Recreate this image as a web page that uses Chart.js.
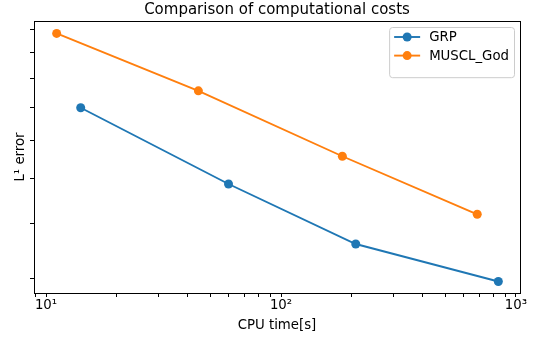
<!DOCTYPE html>
<html>
<head>
<meta charset="utf-8">
<script src="https://cdn.jsdelivr.net/npm/chart.js@4"></script>
<style>
  html, body { margin: 0; padding: 0; background: #fff; }
  #wrap { width: 536px; height: 341px; }
</style>
</head>
<body>
<div id="wrap"><canvas id="chart"></canvas></div>
<script>
const chartTitle = "Comparison of computational costs";
const xLabel = "CPU time[s]";
const yLabel = "L\u00b9 error";

const grpTime = [14.05, 59.8, 208, 841];
const grpError = [0.0080, 0.00587, 0.0046, 0.00395];
const musclTime = [11.1, 44.5, 182.4, 684];
const musclError = [0.01082, 0.00857, 0.00657, 0.00519];

const xTickValues = [9, 10, 20, 30, 40, 50, 60, 70, 80, 90, 100, 200, 300, 400, 500, 600, 700, 800, 900, 1000];
const xTickLabels = { 10: "10\u00b9", 100: "10\u00b2", 1000: "10\u00b3" };
const yTickValues = [0.004, 0.005, 0.006, 0.007, 0.008, 0.009, 0.010, 0.011];

const FONT = "'DejaVu Sans', sans-serif";
const BLUE = "#1f77b4";
const ORANGE = "#ff7f0e";

const toPoints = (xs, ys) => xs.map((x, i) => ({ x, y: ys[i] }));

// frame, title and matplotlib-like legend
const decor = {
  id: "decor",
  afterDraw(chart) {
    const { ctx, chartArea: a } = chart;
    ctx.save();
    ctx.strokeStyle = "#000";
    ctx.lineWidth = 1;
    ctx.strokeRect(Math.round(a.left) + 0.5, Math.round(a.top) + 0.5,
      Math.round(a.right - a.left), Math.round(a.bottom - a.top));

    ctx.fillStyle = "#000";
    ctx.font = `15px ${FONT}`;
    ctx.textAlign = "center";
    ctx.textBaseline = "alphabetic";
    ctx.fillText(chartTitle, (a.left + a.right) / 2, a.top - 7);

    // legend
    ctx.font = `13.3px ${FONT}`;
    const sets = chart.data.datasets;
    const textW = Math.max(...sets.map((d) => ctx.measureText(d.label).width));
    const w = 5 + 26 + 9 + textW + 5;
    const rowH = 18.6;
    const h = 10 + rowH * sets.length + 3;
    const x0 = a.right - 6 - w;
    const y0 = a.top + 6;
    ctx.beginPath();
    ctx.roundRect(x0 + 0.5, y0 + 0.5, w, h, 3);
    ctx.fillStyle = "rgba(255,255,255,0.8)";
    ctx.fill();
    ctx.strokeStyle = "#cccccc";
    ctx.stroke();
    sets.forEach((d, i) => {
      const cy = y0 + 10 + rowH * i;
      ctx.strokeStyle = d.borderColor;
      ctx.lineWidth = 1.9;
      ctx.beginPath();
      ctx.moveTo(x0 + 5, cy);
      ctx.lineTo(x0 + 31, cy);
      ctx.stroke();
      ctx.fillStyle = d.borderColor;
      ctx.beginPath();
      ctx.arc(x0 + 18, cy, 4.5, 0, Math.PI * 2);
      ctx.fill();
      ctx.fillStyle = "#000";
      ctx.textAlign = "left";
      ctx.textBaseline = "middle";
      ctx.fillText(d.label, x0 + 40, cy + 0.5);
    });
    ctx.restore();
  },
};

new Chart(document.getElementById("chart"), {
  type: "line",
  data: {
    datasets: [
      { label: "GRP", data: toPoints(grpTime, grpError), borderColor: BLUE, backgroundColor: BLUE },
      { label: "MUSCL_God", data: toPoints(musclTime, musclError), borderColor: ORANGE, backgroundColor: ORANGE },
    ],
  },
  options: {
    responsive: true,
    maintainAspectRatio: false,
    animation: false,
    layout: { padding: { top: 21, right: 16, left: 0, bottom: 0 } },
    elements: {
      line: { borderWidth: 1.9, tension: 0, fill: false },
      point: { radius: 4.5, borderWidth: 0, hoverRadius: 4.5 },
    },
    plugins: { legend: { display: false }, title: { display: false }, tooltip: { enabled: false } },
    scales: {
      x: {
        type: "logarithmic",
        min: 8.89,
        max: 1040,
        afterBuildTicks: (s) => { s.ticks = xTickValues.map((v) => ({ value: v })); },
        afterFit: (s) => { s.height = 48; },
        ticks: {
          autoSkip: false,
          maxRotation: 0,
          padding: 1,
          color: "#000",
          font: { family: FONT, size: 13.3 },
          callback: (v) => xTickLabels[v] || "",
        },
        grid: { drawOnChartArea: false, drawTicks: true, tickLength: 4, tickColor: "#000" },
        border: { display: true, color: "#000", width: 1 },
        title: { display: true, text: xLabel, color: "#000", font: { family: FONT, size: 13.3 }, padding: { top: 2, bottom: 7 } },
      },
      y: {
        type: "logarithmic",
        min: 0.00377,
        max: 0.01138,
        afterBuildTicks: (s) => { s.ticks = yTickValues.map((v) => ({ value: v })); },
        afterFit: (s) => { s.width = 34; },
        ticks: { autoSkip: false, padding: 0, callback: () => "", font: { family: FONT, size: 11 } },
        grid: { drawOnChartArea: false, drawTicks: true, tickLength: 4, tickColor: "#000" },
        border: { display: true, color: "#000", width: 1 },
        title: { display: true, text: yLabel, color: "#000", font: { family: FONT, size: 13.3 }, padding: { top: 13, bottom: 0 } },
      },
    },
  },
  plugins: [decor],
});
</script>
</body>
</html>
